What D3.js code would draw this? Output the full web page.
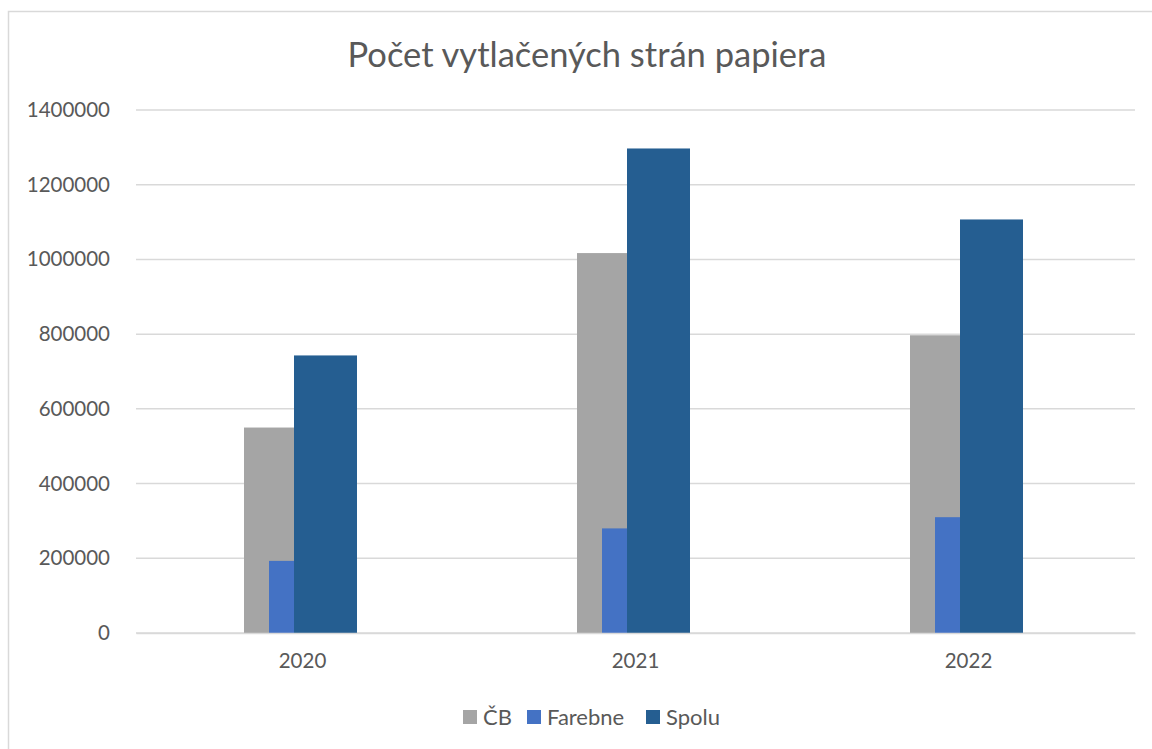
<!DOCTYPE html>
<html>
<head>
<meta charset="utf-8">
<script src="https://cdn.jsdelivr.net/npm/d3@7"></script>
<style>
  body { margin: 0; background: #fff; }
  svg { display: block; font-family: Lato, "Open Sans", sans-serif; }
</style>
</head>
<body>
<div id="container"></div>
<script>
const years = ["2020", "2021", "2022"];
const seriesNames = ["ČB", "Farebne", "Spolu"];
const cbValues = [550000, 1017000, 797000];
const farebneValues = [193000, 280000, 310000];
const spoluValues = [743000, 1297000, 1107000];
const yTicks = [0, 200000, 400000, 600000, 800000, 1000000, 1200000, 1400000];
const colors = ["#a5a5a5", "#4472c4", "#255e91"];

const width = 1152;
const height = 749;
const padding = { top: 110, bot: 116, left: 136, right: 17 };

const seriesValues = [cbValues, farebneValues, spoluValues];

const svg = d3.select("#container")
              .append("svg")
              .attr("width", width)
              .attr("height", height);

// outer chart frame (runs off the right and bottom edge)
svg.append("rect")
   .attr("x", 8.5)
   .attr("y", 11.5)
   .attr("width", 1200)
   .attr("height", 800)
   .attr("fill", "#fff")
   .attr("stroke", "#d9d9d9")
   .attr("stroke-width", 1.5);

svg.append("text")
   .text("Počet vytlačených strán papiera")
   .attr("x", 587)
   .attr("y", 67)
   .attr("text-anchor", "middle")
   .attr("fill", "#595959")
   .style("font-size", "34.5px");

const xScale = d3.scaleBand()
                 .domain(years)
                 .range([padding.left, width - padding.right]);

const yScale = d3.scaleLinear()
                 .domain([0, 1400000])
                 .range([height - padding.bot, padding.top]);

// gridlines
svg.append("g")
   .selectAll("line")
   .data(yTicks)
   .enter()
   .append("line")
   .attr("x1", padding.left)
   .attr("x2", width - padding.right)
   .attr("y1", (d) => yScale(d))
   .attr("y2", (d) => yScale(d))
   .attr("stroke", "#d9d9d9")
   .attr("stroke-width", 1.5);

const yAxis = d3.axisLeft(yScale)
                .tickValues(yTicks)
                .tickSize(0)
                .tickPadding(26)
                .tickFormat(d3.format("d"));
const yG = svg.append("g")
              .attr("transform", "translate(" + padding.left + ", 0)")
              .call(yAxis);
yG.select(".domain").remove();
yG.selectAll("text")
  .attr("fill", "#595959")
  .style("font-size", "20.5px")
  .style("font-family", "Lato, sans-serif");

// overlapping bars
const barW = 63;
const step = 25;
const groupW = barW + step * (seriesNames.length - 1);

seriesNames.forEach((name, s) => {
  svg.append("g")
     .selectAll("rect")
     .data(years)
     .enter()
     .append("rect")
     .attr("x", (d) => xScale(d) + xScale.bandwidth() / 2 - groupW / 2 - 2 + s * step)
     .attr("y", (d, i) => yScale(seriesValues[s][i]))
     .attr("width", barW)
     .attr("height", (d, i) => yScale(0) - yScale(seriesValues[s][i]))
     .attr("fill", colors[s]);
});

const xAxis = d3.axisBottom(xScale)
                .tickSize(0)
                .tickPadding(20);
const xG = svg.append("g")
              .attr("transform", "translate(0, " + yScale(0) + ")")
              .call(xAxis);
xG.select(".domain")
  .attr("stroke", "#d9d9d9")
  .attr("stroke-width", 1.5);
xG.selectAll("text")
  .attr("fill", "#595959")
  .style("font-size", "20.5px")
  .style("font-family", "Lato, sans-serif");

// legend
const legendX = [463, 527, 646];
const legend = svg.append("g");
seriesNames.forEach((name, s) => {
  legend.append("rect")
        .attr("x", legendX[s])
        .attr("y", 710)
        .attr("width", 14)
        .attr("height", 14)
        .attr("fill", colors[s]);
  legend.append("text")
        .text(name)
        .attr("x", legendX[s] + 20)
        .attr("y", 725)
        .attr("fill", "#595959")
        .style("font-size", "22px");
});
</script>
</body>
</html>
